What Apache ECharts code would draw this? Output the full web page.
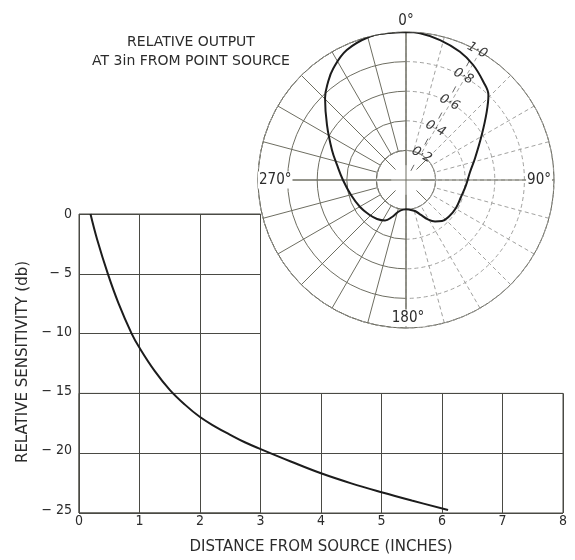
<!DOCTYPE html>
<html>
<head>
<meta charset="utf-8">
<script src="https://cdn.jsdelivr.net/npm/echarts@6/dist/echarts.min.js"></script>
<style>
  html, body { margin: 0; padding: 0; background: #fff; }
  #chart { width: 575px; height: 560px; }
</style>
</head>
<body>
<div id="chart"></div>
<script>
// ---- Cartesian data: relative sensitivity vs distance ----
const distanceInches = [0.19, 0.3, 0.48, 0.65, 0.87, 1.0, 1.25, 1.5, 1.75, 2.0, 2.25, 2.5, 2.75, 3.0, 3.5, 4.0, 4.5, 5.0, 5.5, 6.1];
const sensitivityDb = [0, -2.15, -5.1, -7.5, -10.1, -11.3, -13.25, -14.85, -16.1, -17.15, -17.95, -18.65, -19.3, -19.85, -20.9, -21.9, -22.75, -23.5, -24.2, -25];

// ---- Polar data: relative output at 3in (angle in degrees, clockwise from top) ----
const patternAngle = [0, 5.5, 13.7, 22.8, 30.3, 38.2, 44.1, 49.8, 59.3, 72.5, 82.9, 94.8, 107.2, 119.25, 130.3, 138.7, 145, 150.9, 156.8, 163.8, 174.2, 180,
  185.8, 194, 200.7, 207.4, 216.6, 227, 239.6, 254.7, 270, 282.3, 292.1, 304.8, 315.4, 321.5, 326.9, 335.5, 345.9, 353, 360];
const patternOutput = [1.0, 0.996, 0.973, 0.94, 0.90, 0.845, 0.80, 0.714, 0.595, 0.489, 0.436, 0.407, 0.389, 0.387, 0.381, 0.369, 0.342, 0.305, 0.257, 0.218, 0.201, 0.198,
  0.201, 0.223, 0.267, 0.308, 0.328, 0.342, 0.36, 0.385, 0.426, 0.477, 0.54, 0.65, 0.779, 0.846, 0.90, 0.965, 1.0, 1.0, 1.0];

// ---- tick / label texts ----
const xTicks = [0, 1, 2, 3, 4, 5, 6, 7, 8];
const yTicks = [0, -5, -10, -15, -20, -25];
const radiusTicks = [0.2, 0.4, 0.6, 0.8, 1.0];
const angleLabels = ['0°', '90°', '180°', '270°'];
const titleLines = ['RELATIVE OUTPUT', 'AT 3in FROM POINT SOURCE'];
const xName = 'DISTANCE FROM SOURCE (INCHES)';
const yName = 'RELATIVE SENSITIVITY (db)';

// ---- layout ----
const PL = 79, PT = 214, PW = 484, PH = 299;
const X_MAX = 8, Y_MIN = -25;
const CX = 406, CY = 180, R = 148;
const GRID_C = '#4a4a44';
const POLAR_SOLID = '#6e6e62';
const POLAR_DASH = '#a2a2a0';
const INK = '#2b2b2b';
const CURVE = '#1c1c1c';
const COND = '"DejaVu Sans Condensed", "DejaVu Sans", sans-serif';
const WIDE = '"DejaVu Sans", sans-serif';

const chart = echarts.init(document.getElementById('chart'), null, { renderer: 'canvas' });

const hiddenAxisParts = { axisLine: { show: false }, axisTick: { show: false }, axisLabel: { show: false } };
const gridLine = { show: true, lineStyle: { color: GRID_C, width: 1 } };

const option = {
  animation: false,
  backgroundColor: '#ffffff',
  grid: [
    { left: PL, top: PT, width: PW * 3 / X_MAX, height: PH, show: true, borderColor: GRID_C, borderWidth: 1, backgroundColor: 'transparent' },
    { left: PL, top: PT + PH * 15 / 25, width: PW, height: PH * 10 / 25, show: true, borderColor: GRID_C, borderWidth: 1, backgroundColor: 'transparent' },
    { left: PL, top: PT, width: PW, height: PH }
  ],
  xAxis: [
    Object.assign({ gridIndex: 0, type: 'value', min: 0, max: 3, interval: 1, splitLine: gridLine }, hiddenAxisParts),
    Object.assign({ gridIndex: 1, type: 'value', min: 0, max: X_MAX, interval: 1, splitLine: gridLine }, hiddenAxisParts),
    {
      gridIndex: 2, type: 'value', min: 0, max: X_MAX, interval: 1,
      axisLine: { show: false }, axisTick: { show: false }, splitLine: { show: false },
      axisLabel: { show: true, margin: 4, color: INK, fontFamily: COND, fontSize: 14,
        formatter: v => (xTicks.indexOf(v) >= 0 ? String(v) : '') },
      name: xName, nameLocation: 'middle', nameGap: 30,
      nameTextStyle: { color: INK, fontFamily: WIDE, fontSize: 15 }
    }
  ],
  yAxis: [
    Object.assign({ gridIndex: 0, type: 'value', min: Y_MIN, max: 0, interval: 5, splitLine: gridLine }, hiddenAxisParts),
    Object.assign({ gridIndex: 1, type: 'value', min: Y_MIN, max: -15, interval: 5, splitLine: gridLine }, hiddenAxisParts),
    {
      gridIndex: 2, type: 'value', min: Y_MIN, max: 0, interval: 5,
      axisLine: { show: false }, axisTick: { show: false }, splitLine: { show: false },
      axisLabel: { show: true, margin: 7, color: INK, fontFamily: COND, fontSize: 14,
        formatter: v => (yTicks.indexOf(v) < 0 ? '' : (v === 0 ? '0' : '\u2212 ' + Math.abs(v))) },
      name: yName, nameLocation: 'middle', nameGap: 48,
      nameTextStyle: { color: INK, fontFamily: WIDE, fontSize: 15 }
    }
  ],
  polar: [
    { center: [CX, CY], radius: [R * 0.2, R] },
    { center: [CX, CY], radius: [R * 0.2, R] },
    { center: [CX, CY], radius: [0, R] },
    { center: [CX, CY], radius: [R * 0.1, R * 0.2] },
    { center: [CX, CY], radius: [0, R] }
  ],
  angleAxis: [
    { polarIndex: 0, type: 'value', min: 180, max: 360, interval: 15, startAngle: 270, endAngle: 90, clockwise: true,
      axisLine: { show: true, lineStyle: { color: POLAR_SOLID, width: 1 } }, axisTick: { show: false }, axisLabel: { show: false },
      splitLine: { show: true, lineStyle: { color: POLAR_SOLID, width: 1 } } },
    { polarIndex: 1, type: 'value', min: 0, max: 180, interval: 15, startAngle: 90, endAngle: -90, clockwise: true,
      axisLine: { show: true, lineStyle: { color: POLAR_DASH, width: 1, type: [4, 3] } }, axisTick: { show: false }, axisLabel: { show: false },
      splitLine: { show: true, lineStyle: { color: POLAR_DASH, width: 1, type: [4, 3] } } },
    { polarIndex: 2, type: 'value', min: 0, max: 360, interval: 90, startAngle: 90, clockwise: true,
      axisLine: { show: false }, axisTick: { show: false }, axisLabel: { show: false },
      splitLine: { show: true, lineStyle: { color: POLAR_SOLID, width: 1 } } },
    { polarIndex: 3, type: 'value', min: 0, max: 360, interval: 45, startAngle: 90, clockwise: true,
      axisLine: { show: false }, axisTick: { show: false }, axisLabel: { show: false },
      splitLine: { show: true, lineStyle: { color: POLAR_SOLID, width: 1 } } },
    { polarIndex: 4, type: 'value', min: 0, max: 360, startAngle: 90 - 28, clockwise: true, show: false }
  ],
  radiusAxis: [
    { polarIndex: 0, type: 'value', min: 0.2, max: 1, interval: 0.2,
      axisLine: { show: false }, axisTick: { show: false }, axisLabel: { show: false },
      splitLine: { show: true, lineStyle: { color: POLAR_SOLID, width: 1 } } },
    { polarIndex: 1, type: 'value', min: 0.2, max: 1, interval: 0.2,
      axisLine: { show: false }, axisTick: { show: false }, axisLabel: { show: false },
      splitLine: { show: true, lineStyle: { color: POLAR_DASH, width: 1, type: [4, 3] } } },
    { polarIndex: 2, type: 'value', min: 0, max: 1, show: false },
    { polarIndex: 3, type: 'value', min: 0, max: 1, show: false },
    { polarIndex: 4, type: 'value', min: 0, max: 1, interval: 0.2,
      axisLine: { show: true, lineStyle: { color: '#666', width: 1, type: [6, 23.6], dashOffset: 18.8 } },
      axisTick: { show: false }, splitLine: { show: false },
      axisLabel: { show: true, margin: -2, rotate: -28, align: 'center', verticalAlign: 'middle',
        color: '#3a3a3a', fontFamily: WIDE, fontStyle: 'italic', fontSize: 13,
        formatter: v => {
          const t = radiusTicks.find(r => Math.abs(r - v) < 1e-6);
          return t === undefined ? '' : t.toFixed(1).replace('.', '\u00b7');
        } } }
  ],
  series: [
    {
      type: 'line', xAxisIndex: 2, yAxisIndex: 2,
      data: distanceInches.map((d, i) => [d, sensitivityDb[i]]),
      smooth: 0.4, showSymbol: false, symbol: 'none',
      lineStyle: { color: CURVE, width: 2 }, z: 5
    },
    {
      type: 'line', coordinateSystem: 'polar', polarIndex: 2,
      data: patternAngle.map((a, i) => [patternOutput[i], a]),
      smooth: 0.4, showSymbol: false, symbol: 'none',
      lineStyle: { color: CURVE, width: 2 }, z: 5
    }
  ],
  graphic: [
    { type: 'text', x: 191, y: 52, z: 10,
      style: { text: titleLines.join('\n'), fill: INK, font: '14px ' + WIDE, align: 'center', verticalAlign: 'middle', lineHeight: 19 } },
    { type: 'text', x: CX, y: CY - R - 11, z: 10,
      style: { text: angleLabels[0], fill: INK, font: '15px ' + COND, align: 'center', verticalAlign: 'middle' } },
    { type: 'text', x: CX + R - 2, y: CY, z: 10,
      style: { text: angleLabels[1], fill: INK, font: '15px ' + COND, align: 'right', verticalAlign: 'middle', backgroundColor: '#fff', padding: [1, 1] } },
    { type: 'text', x: CX + 2, y: CY + R - 10, z: 10,
      style: { text: angleLabels[2], fill: INK, font: '15px ' + COND, align: 'center', verticalAlign: 'middle', backgroundColor: '#fff', padding: [1, 1] } },
    { type: 'text', x: CX - R, y: CY, z: 10,
      style: { text: angleLabels[3], fill: INK, font: '15px ' + COND, align: 'left', verticalAlign: 'middle', backgroundColor: '#fff', padding: [1, 1] } }
  ]
};

chart.setOption(option);
</script>
</body>
</html>
